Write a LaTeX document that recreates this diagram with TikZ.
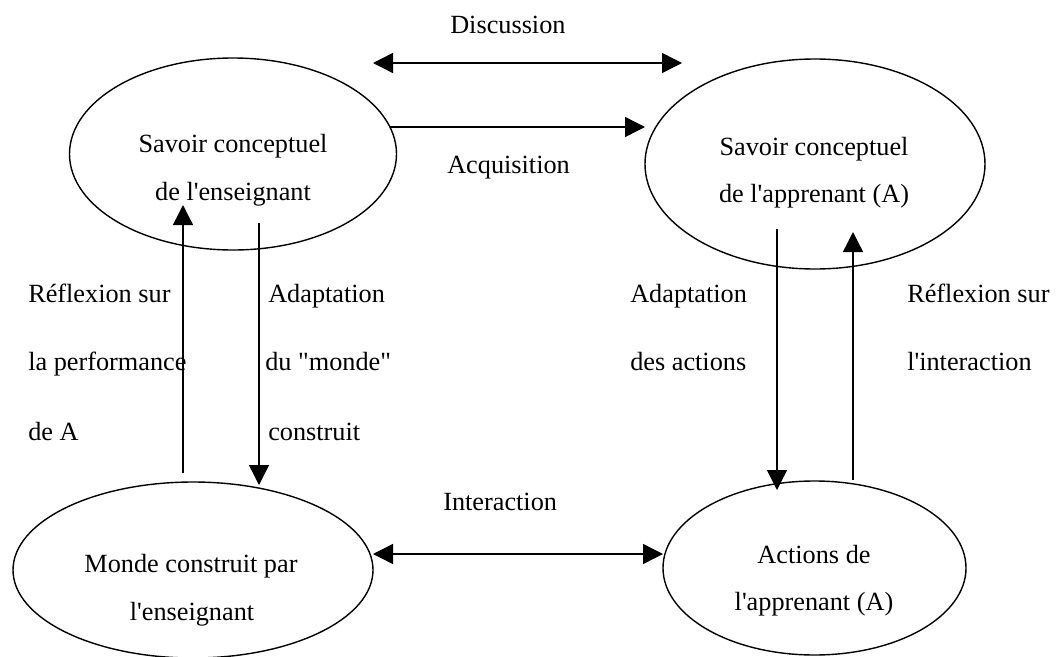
\documentclass[tikz,border=0pt]{standalone}
\usepackage{fontspec}
\setmainfont{Liberation Serif}
\usetikzlibrary{shapes.geometric,arrows.meta}
\newcommand{\sq}{\textquotesingle}
\newcommand{\dq}{\textquotedbl}
\begin{document}
\begin{tikzpicture}[x=0.75pt,y=-0.75pt,
  bubble/.style={draw, ellipse, line width=1.05pt, inner sep=0pt},
  lbl/.style={font=\fontsize{19.7}{24}\selectfont, inner sep=0pt},
  conn/.style={line width=1.05pt, -{Triangle[length=15pt,width=15pt]}},
  conntwo/.style={line width=1.05pt, {Triangle[length=15pt,width=15pt]}-{Triangle[length=15pt,width=15pt]}}]
\useasboundingbox (0,0) rectangle (1061,657);
% ellipses
\node[bubble, minimum width=245.25pt, minimum height=144pt] (tk) at (233,154) {};
\node[bubble, minimum width=255pt, minimum height=157.5pt] (lk) at (815,164) {};
\node[bubble, minimum width=270pt, minimum height=132pt] (mw) at (193,570) {};
\node[bubble, minimum width=227.25pt, minimum height=130.5pt] (la) at (814.5,568) {};
% ellipse texts
\node[lbl, anchor=base] (tk1) at (233,152) {Savoir conceptuel};
\node[lbl, anchor=base] (tk2) at (233,200) {de l\sq enseignant};
\node[lbl, anchor=base] (lk1) at (814,155) {Savoir conceptuel};
\node[lbl, anchor=base] (lk2) at (814,202) {de l\sq apprenant (A)};
\node[lbl, anchor=base] (mw1) at (191,572) {Monde construit par};
\node[lbl, anchor=base] (mw2) at (192,620) {l\sq enseignant};
\node[lbl, anchor=base] (la1) at (814,563) {Actions de};
\node[lbl, anchor=base] (la2) at (814,610) {l\sq apprenant (A)};
% connector labels
\node[lbl, anchor=base west] (disc) at (450,33) {Discussion};
\node[lbl, anchor=base west] (acq) at (447,173) {Acquisition};
\node[lbl, anchor=base west] (inter) at (443,510) {Interaction};
\node[lbl, anchor=base west] (rl1) at (28,302) {Réflexion sur};
\node[lbl, anchor=base west] (rl2) at (28,370) {la performance};
\node[lbl, anchor=base west] (rl3) at (28,440) {de A};
\node[lbl, anchor=base west] (al1) at (268,302) {Adaptation};
\node[lbl, anchor=base west] (al2) at (265,370) {du \dq monde\dq};
\node[lbl, anchor=base west] (al3) at (268,440) {construit};
\node[lbl, anchor=base west] (ar1) at (630,302) {Adaptation};
\node[lbl, anchor=base west] (ar2) at (630,370) {des actions};
\node[lbl, anchor=base west] (rr1) at (907,302) {Réflexion sur};
\node[lbl, anchor=base west] (rr2) at (907,370) {l\sq interaction};
% connector end points
\coordinate (d1) at (373,63);
\coordinate (d2) at (682,63);
\coordinate (q1) at (390,127);
\coordinate (q2) at (645,127);
\coordinate (i1) at (373,554);
\coordinate (i2) at (663,554);
\coordinate (lu1) at (183,473);
\coordinate (lu2) at (183,205);
\coordinate (ld1) at (259,223);
\coordinate (ld2) at (259,485);
\coordinate (rd1) at (777,229);
\coordinate (rd2) at (777,490);
\coordinate (ru1) at (853,480);
\coordinate (ru2) at (853,232);
% connectors
\draw[conntwo] (d1) -- (d2);
\draw[conn] (q1) -- (q2);
\draw[conntwo] (i1) -- (i2);
\draw[conn] (lu1) -- (lu2);
\draw[conn] (ld1) -- (ld2);
\draw[conn] (rd1) -- (rd2);
\draw[conn] (ru1) -- (ru2);
\end{tikzpicture}
\end{document}
